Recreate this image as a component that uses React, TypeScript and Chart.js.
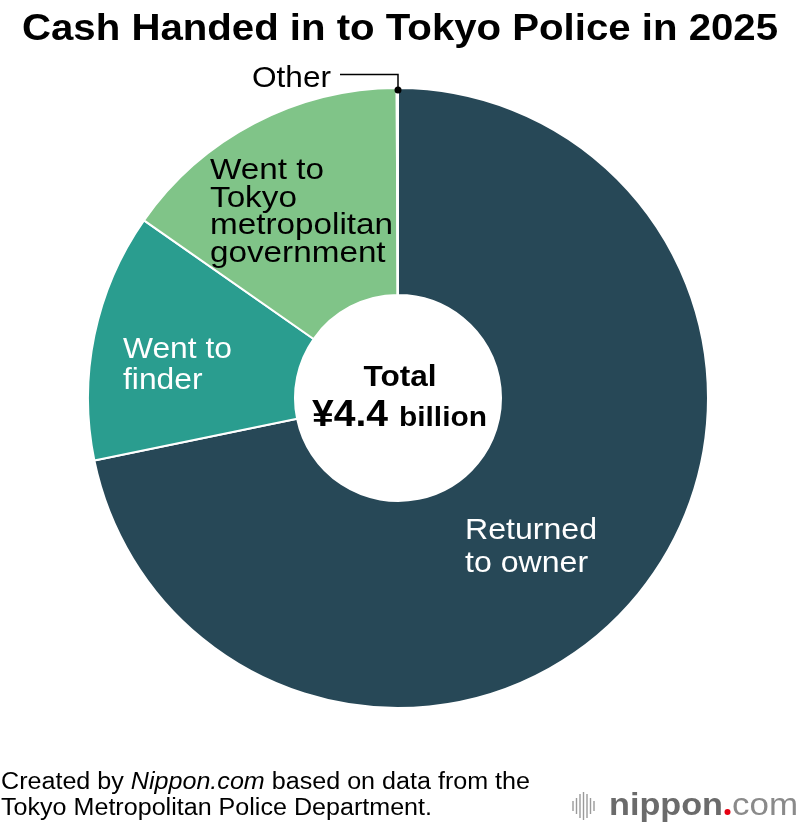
import React, { useEffect, useRef } from "react";
import { Chart, registerables } from "chart.js";

Chart.register(...registerables);

// ---- data (¥100 million) ----
const categories = [
  "Returned to owner",
  "Went to finder",
  "Went to Tokyo metropolitan government",
  "Other",
];
const values = [31.6, 5.7, 6.7, 0.03];
const colors = ["#274857", "#2a9d8f", "#80c488", "#9a9a9a"];

const titleText = "Cash Handed in to Tokyo Police in 2025";
const totalLabel = "Total";
const totalValue = "¥4.4";
const totalUnit = "billion";
const labelReturned = ["Returned", "to owner"];
const labelFinder = ["Went to", "finder"];
const labelTokyo = ["Went to", "Tokyo", "metropolitan", "government"];
const labelOther = "Other";
const footerLine1 = ["Created by ", "Nippon.com", " based on data from the"];
const footerLine2 = "Tokyo Metropolitan Police Department.";

const FONT = '"Liberation Sans", Arial, Helvetica, sans-serif';

function measure(ctx: CanvasRenderingContext2D, text: string, font: string) {
  ctx.font = font;
  return ctx.measureText(text).width;
}

function drawScaled(
  ctx: CanvasRenderingContext2D,
  text: string,
  font: string,
  x: number,
  y: number,
  sx: number,
  color: string,
  align: "left" | "center" = "left"
) {
  ctx.save();
  ctx.font = font;
  const w = ctx.measureText(text).width * sx;
  const x0 = align === "center" ? x - w / 2 : x;
  ctx.translate(x0, y);
  ctx.scale(sx, 1);
  ctx.textAlign = "left";
  ctx.textBaseline = "alphabetic";
  ctx.fillStyle = color;
  ctx.fillText(text, 0, 0);
  ctx.restore();
  return w;
}

function drawBlock(
  ctx: CanvasRenderingContext2D,
  lines: string[],
  font: string,
  x: number,
  baselines: number[],
  refIndex: number,
  refWidth: number,
  color: string
) {
  const sx = refWidth / measure(ctx, lines[refIndex], font);
  lines.forEach((l, i) => drawScaled(ctx, l, font, x, baselines[i], sx, color));
}

const textPlugin = {
  id: "textPlugin",
  afterDraw(chart: any) {
    const ctx: CanvasRenderingContext2D = chart.ctx;

    // Title
    const tFont = `bold 37px ${FONT}`;
    const tsx = 756 / measure(ctx, titleText, tFont);
    drawScaled(ctx, titleText, tFont, 22, 40, tsx, "#000");

    // Slice labels
    const lFont = `30px ${FONT}`;
    drawBlock(ctx, labelReturned, lFont, 465, [539, 572], 0, 132, "#ffffff");
    drawBlock(ctx, labelFinder, lFont, 123, [358, 389], 0, 109, "#ffffff");
    drawBlock(ctx, labelTokyo, lFont, 210, [179, 207, 234, 262], 2, 183, "#000000");
    drawBlock(ctx, [labelOther], lFont, 252, [87], 0, 79, "#000000");

    // Leader line for Other
    ctx.save();
    ctx.strokeStyle = "#000";
    ctx.lineWidth = 1.5;
    ctx.beginPath();
    ctx.moveTo(340, 74.5);
    ctx.lineTo(398, 74.5);
    ctx.lineTo(398, 90);
    ctx.stroke();
    ctx.fillStyle = "#000";
    ctx.beginPath();
    ctx.arc(398, 90, 3.5, 0, Math.PI * 2);
    ctx.fill();
    ctx.restore();

    // Center text
    const totFont = `bold 29px ${FONT}`;
    drawScaled(ctx, totalLabel, totFont, 400, 386, 73 / measure(ctx, totalLabel, totFont), "#000", "center");
    const vFont = `bold 37px ${FONT}`;
    drawScaled(ctx, totalValue, vFont, 312, 426, 76 / measure(ctx, totalValue, vFont), "#000");
    const uFont = `bold 27px ${FONT}`;
    drawScaled(ctx, totalUnit, uFont, 399, 426, 88 / measure(ctx, totalUnit, uFont), "#000");

    // Footer
    const fN = `23px ${FONT}`;
    const fI = `italic 23px ${FONT}`;
    const fonts = [fN, fI, fN];
    const total1 = footerLine1.reduce((s, t, i) => s + measure(ctx, t, fonts[i]), 0);
    const fsx = 529 / total1;
    let fx = 1;
    footerLine1.forEach((t, i) => {
      fx += drawScaled(ctx, t, fonts[i], fx, 789, fsx, "#000");
    });
    drawScaled(ctx, footerLine2, fN, 1, 815, 431 / measure(ctx, footerLine2, fN), "#000");

    // Logo
    ctx.save();
    ctx.strokeStyle = "#9a9a9a";
    ctx.lineWidth = 1.4;
    const bars = [
      [573, 10],
      [576.5, 16],
      [580, 24],
      [583.5, 28],
      [587, 24],
      [590.5, 16],
      [594, 10],
    ];
    bars.forEach(([bx, h]) => {
      ctx.beginPath();
      ctx.moveTo(bx, 806 - h / 2);
      ctx.lineTo(bx, 806 + h / 2);
      ctx.stroke();
    });
    ctx.restore();
    const nFont = `bold 32px ${FONT}`;
    drawScaled(ctx, "nippon", nFont, 609, 815, 114 / measure(ctx, "nippon", nFont), "#6b6b6b");
    ctx.save();
    ctx.fillStyle = "#e60012";
    ctx.beginPath();
    ctx.arc(727.5, 812, 3, 0, Math.PI * 2);
    ctx.fill();
    ctx.restore();
    const cFont = `300 32px ${FONT}`;
    drawScaled(ctx, "com", cFont, 732, 815, 66 / measure(ctx, "com", cFont), "#8a8a8a");
  },
};

export default function App() {
  const ref = useRef<HTMLCanvasElement | null>(null);
  useEffect(() => {
    if (!ref.current) return;
    const chart = new Chart(ref.current, {
      type: "doughnut",
      data: {
        labels: categories,
        datasets: [
          {
            data: values,
            backgroundColor: colors,
            borderColor: "#ffffff",
            borderWidth: 2,
            hoverOffset: 0,
          },
        ],
      },
      options: {
        responsive: false,
        animation: false,
        cutout: 103,
        rotation: 0,
        events: [],
        layout: { padding: { left: 87, top: 87, right: 91, bottom: 119 } },
        plugins: {
          legend: { display: false },
          tooltip: { enabled: false },
          title: { display: false },
        },
      },
      plugins: [textPlugin],
    } as any);
    return () => chart.destroy();
  }, []);
  return (
    <canvas
      ref={ref}
      width={800}
      height={828}
      style={{ position: "fixed", left: 0, top: 0, display: "block", background: "#fff" }}
    />
  );
}
